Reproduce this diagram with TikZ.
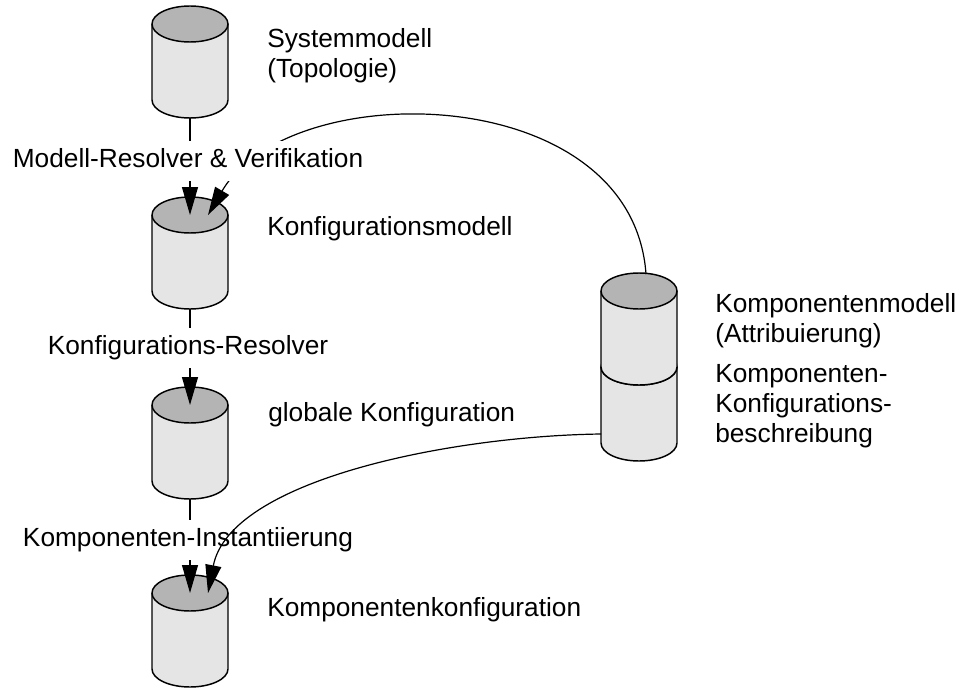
\documentclass[tikz,border=0pt]{standalone}
\usepackage{fontspec}
\setmainfont{Liberation Sans}
\usetikzlibrary{arrows.meta}
\usetikzlibrary{calc}

\definecolor{cyltopgray}{RGB}{180,180,180}
\definecolor{cylbodygray}{RGB}{229,229,229}

\begin{document}
\begin{tikzpicture}[x=0.75pt,y=0.75pt,yscale=-1,xscale=1,
  font=\fontsize{19.7pt}{22.5pt}\selectfont,
  cylline/.style={draw=black,line width=1.1pt},
  flow/.style={line width=0.9pt,-{Triangle[length=21pt,width=12pt]}},
  steplabel/.style={fill=white,inner xsep=1pt,inner ysep=6pt,text height=14pt,text depth=4pt},
  cyllabel/.style={anchor=base west,inner sep=0pt,align=left},
  pics/dbcyl/.style={code={
    % inside the pic y points up again
    \fill[cylbodygray] (-38,0) -- (-38,-76) arc[start angle=180,end angle=360,x radius=38,y radius=18] -- (38,0) -- cycle;
    \draw[cylline] (-38,0) -- (-38,-76) arc[start angle=180,end angle=360,x radius=38,y radius=18] -- (38,0);
    \filldraw[cylline,fill=cyltopgray] (0,0) ellipse[x radius=38,y radius=18];
    \coordinate (-top) at (0,0);
    \coordinate (-rim) at (0,18);
    \coordinate (-bottom) at (0,-94);
    \coordinate (-west) at (-38,-38);
  }}]
\useasboundingbox (0,0) rectangle (970,688);

%Shape: Cylinders, left column
\pic (sysm) at (190,24) {dbcyl};
\pic (konf) at (190,215) {dbcyl};
\pic (glob) at (190,405) {dbcyl};
\pic (kkonf) at (190,593) {dbcyl};
%Shape: Cylinders, right stack (lower one first)
\pic (kbes) at (639,367) {dbcyl};
\pic (kmod) at (639,291) {dbcyl};

%Connector: Komponentenmodell to Konfigurationsmodell
\draw[flow] ($(kmod-rim)+(7,1)$) .. controls (632,80) and (290,75) .. ($(konf-top)+(18,0)$);
%Connector: vertical arrows
\draw[flow] (sysm-bottom) -- (konf-top);
\draw[flow] (konf-bottom) -- (glob-top);
\draw[flow] (glob-bottom) -- (kkonf-top);

% Text Node
\node[steplabel] (mres) at (188,161) {Modell-Resolver \& Verifikation};
% Text Node
\node[steplabel] (kres) at (188,348) {Konfigurations-Resolver};
% Text Node
\node[steplabel] (kinst) at (188,540) {Komponenten-Instantiierung};

%Connector: Konfigurationsbeschreibung to Komponentenkonfiguration
\draw[flow] ($(kbes-west)+(0,29)$) .. controls (450,436) and (230,480) .. ($(kkonf-top)+(18,0)$);

% Text Node
\node[cyllabel] (tsysm) at (267,78) {Systemmodell\\(Topologie)};
% Text Node
\node[cyllabel] (tkonf) at (267,235) {Konfigurationsmodell};
% Text Node
\node[cyllabel] (tglob) at (268,421) {globale Konfiguration};
% Text Node
\node[cyllabel] (tkkonf) at (267,616) {Komponentenkonfiguration};
% Text Node
\node[cyllabel] (tkmod) at (715,342) {Komponentenmodell\\(Attribuierung)};
% Text Node
\node[cyllabel] (tkbes) at (715,442) {Komponenten-\\Konfigurations-\\beschreibung};

\end{tikzpicture}
\end{document}
